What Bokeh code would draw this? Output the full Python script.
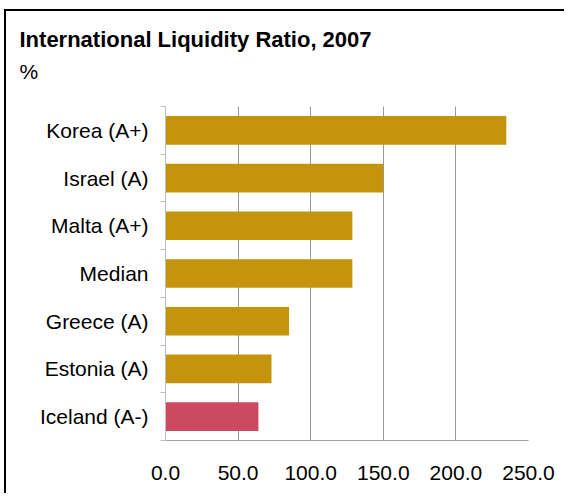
from bokeh.plotting import figure
from bokeh.models import Range1d, FixedTicker, NumeralTickFormatter, Title, ColumnDataSource
from bokeh.embed import file_html
from bokeh.resources import INLINE

categories = ["Korea (A+)", "Israel (A)", "Malta (A+)", "Median", "Greece (A)", "Estonia (A)", "Iceland (A-)"]
values = [234.7, 150.0, 128.7, 128.7, 85.1, 73.0, 64.0]
highlight = "Iceland (A-)"
x_ticks = [0, 50, 100, 150, 200, 250]
title_text = "International Liquidity Ratio, 2007"
unit_text = "%"

GOLD = "#C4940C"
RED = "#CC4960"
FONT = "Liberation Sans"

n = len(categories)
ypos = [n - i - 0.5 for i in range(n)]
colors = [RED if c == highlight else GOLD for c in categories]
src = ColumnDataSource(dict(cat=categories, val=values, y=ypos, color=colors))

W, H = 560, 484
BL, BT = 159, 95
BB = H - 429
p = figure(width=W, height=H, output_backend="svg", toolbar_location=None,
           x_range=Range1d(0, 250), y_range=Range1d(0, n),
           min_border_left=BL, min_border_right=W - 522, min_border_top=BT, min_border_bottom=BB,
           margin=(9, 0, 0, 4))
p.styles = {"border-top": "2px solid black", "border-left": "2px solid black"}

p.hbar(y="y", left=0, right="val", height=0.6, color="color", source=src, line_color=None)

p.outline_line_color = None
p.ygrid.visible = False
p.xgrid.ticker = FixedTicker(ticks=x_ticks[1:])
p.xgrid.grid_line_color = "#999999"

xa = p.xaxis[0]
xa.ticker = FixedTicker(ticks=x_ticks)
xa.formatter = NumeralTickFormatter(format="0.0")
xa.major_tick_line_color = None
xa.minor_tick_line_color = None
xa.axis_line_color = "#A0A0A0"
xa.major_label_text_font = FONT
xa.major_label_text_font_size = "21px"
xa.major_label_text_color = "black"
xa.major_label_standoff = 19

ya = p.yaxis[0]
ya.ticker = FixedTicker(ticks=ypos, minor_ticks=list(range(n + 1)))
ya.major_label_overrides = {y: c for y, c in zip(ypos, categories)}
ya.major_tick_line_color = None
ya.major_tick_out = 0
ya.major_tick_in = 0
ya.minor_tick_line_color = "#BFBFBF"
ya.minor_tick_out = 5
ya.minor_tick_in = 0
ya.axis_line_color = "#BFBFBF"
ya.major_label_text_font = FONT
ya.major_label_text_font_size = "21px"
ya.major_label_text_color = "black"
ya.major_label_standoff = 12

p.add_layout(Title(text=unit_text, text_font=FONT, text_font_size="21px", text_font_style="normal",
                   text_color="black", align="left", offset=13 - BL, standoff=48), "above")
p.add_layout(Title(text=title_text, text_font=FONT, text_font_size="22px", text_font_style="bold",
                   text_color="black", align="left", offset=13 - BL, standoff=-36), "above")

open("out.html", "w").write(file_html(p, INLINE))
